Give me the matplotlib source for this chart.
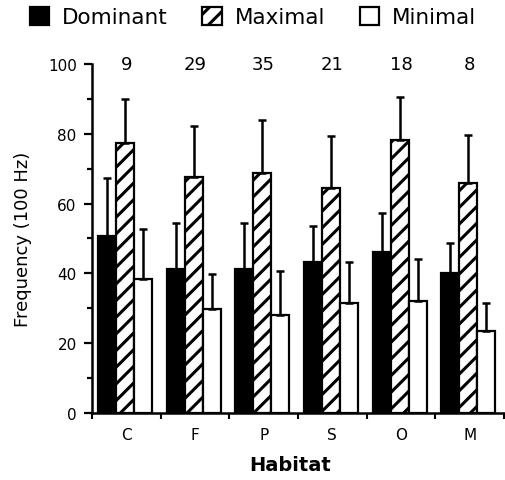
import matplotlib
matplotlib.use("Agg")
import matplotlib.pyplot as plt
from matplotlib.patches import Patch
from matplotlib.ticker import MultipleLocator
import numpy as np

# habitat groups and sample sizes
categories = ["C", "F", "P", "S", "O", "M"]
n_counts = [9, 29, 35, 21, 18, 8]

# mean frequencies (100 Hz) and upper SD
dominant = [50.7, 41.4, 41.4, 43.4, 46.1, 40.0]
dominant_sd = [16.5, 13.0, 13.0, 10.2, 11.1, 8.8]
maximal = [77.3, 67.7, 68.9, 64.6, 78.1, 65.8]
maximal_sd = [12.8, 14.6, 15.0, 14.8, 12.3, 13.8]
minimal = [38.3, 29.7, 28.2, 31.4, 32.1, 23.4]
minimal_sd = [14.3, 10.2, 12.4, 11.9, 11.9, 8.0]

plt.rcParams["hatch.linewidth"] = 2.2
plt.rcParams["font.family"] = "DejaVu Sans"

fig = plt.figure(figsize=(5.06, 4.81), dpi=100)
ax = fig.add_axes([0.1818, 0.1393, 0.8142, 0.7256])

x = np.arange(len(categories))
w = 0.262
off = 0.087
series = [
    (dominant, dominant_sd, dict(facecolor="black")),
    (maximal, maximal_sd, dict(facecolor="white", hatch="//")),
    (minimal, minimal_sd, dict(facecolor="white")),
]
for k, (vals, sd, style) in enumerate(series):
    pos = x + off + w * (k + 0.5)
    ax.bar(pos, vals, width=w, edgecolor="black", linewidth=1.6, zorder=2, **style)
    ax.errorbar(pos, vals, yerr=[np.zeros(len(sd)), sd], fmt="none",
                ecolor="black", elinewidth=1.8, capsize=3, capthick=1.8, zorder=3)

for i, n in enumerate(n_counts):
    ax.text(i + 0.5, 100, str(n), ha="center", va="center", fontsize=13,
            clip_on=False)

ax.set_xlim(0, 6)
ax.set_ylim(0, 100)
ax.set_xticks(np.arange(0, 7))
ax.set_xticklabels([])
ax.set_xticks(x + 0.5, minor=True)
ax.set_xticklabels(categories, minor=True, fontsize=11)
ax.tick_params(axis="x", which="major", direction="out", length=4, width=1.5)
ax.tick_params(axis="x", which="minor", length=0, pad=10)
ax.yaxis.set_major_locator(MultipleLocator(20))
ax.yaxis.set_minor_locator(MultipleLocator(10))
ax.tick_params(axis="y", which="major", direction="out", length=6, width=1.6,
               labelsize=11, pad=5)
ax.tick_params(axis="y", which="minor", direction="out", length=3.5, width=1.6)
for s in ["top", "right"]:
    ax.spines[s].set_visible(False)
for s in ["left", "bottom"]:
    ax.spines[s].set_linewidth(1.8)

ax.set_ylabel("Frequency (100 Hz)", fontsize=13)
ax.yaxis.set_label_coords(-0.145, 0.5)
ax.set_xlabel("Habitat", fontsize=14, fontweight="bold")
ax.xaxis.set_label_coords(0.48, -0.12)

handles = [
    Patch(facecolor="black", edgecolor="black", linewidth=1.6),
    Patch(facecolor="white", edgecolor="black", hatch="//", linewidth=1.6),
    Patch(facecolor="white", edgecolor="black", linewidth=1.6),
]
fig.legend(handles, ["Dominant", "Maximal", "Minimal"], loc="center",
           bbox_to_anchor=(0.5, 0.962), ncol=3, frameon=False, fontsize=15.5,
           handlelength=0.9, handleheight=0.9, handletextpad=0.6,
           columnspacing=1.6)

fig.savefig("out.png", dpi=100)
